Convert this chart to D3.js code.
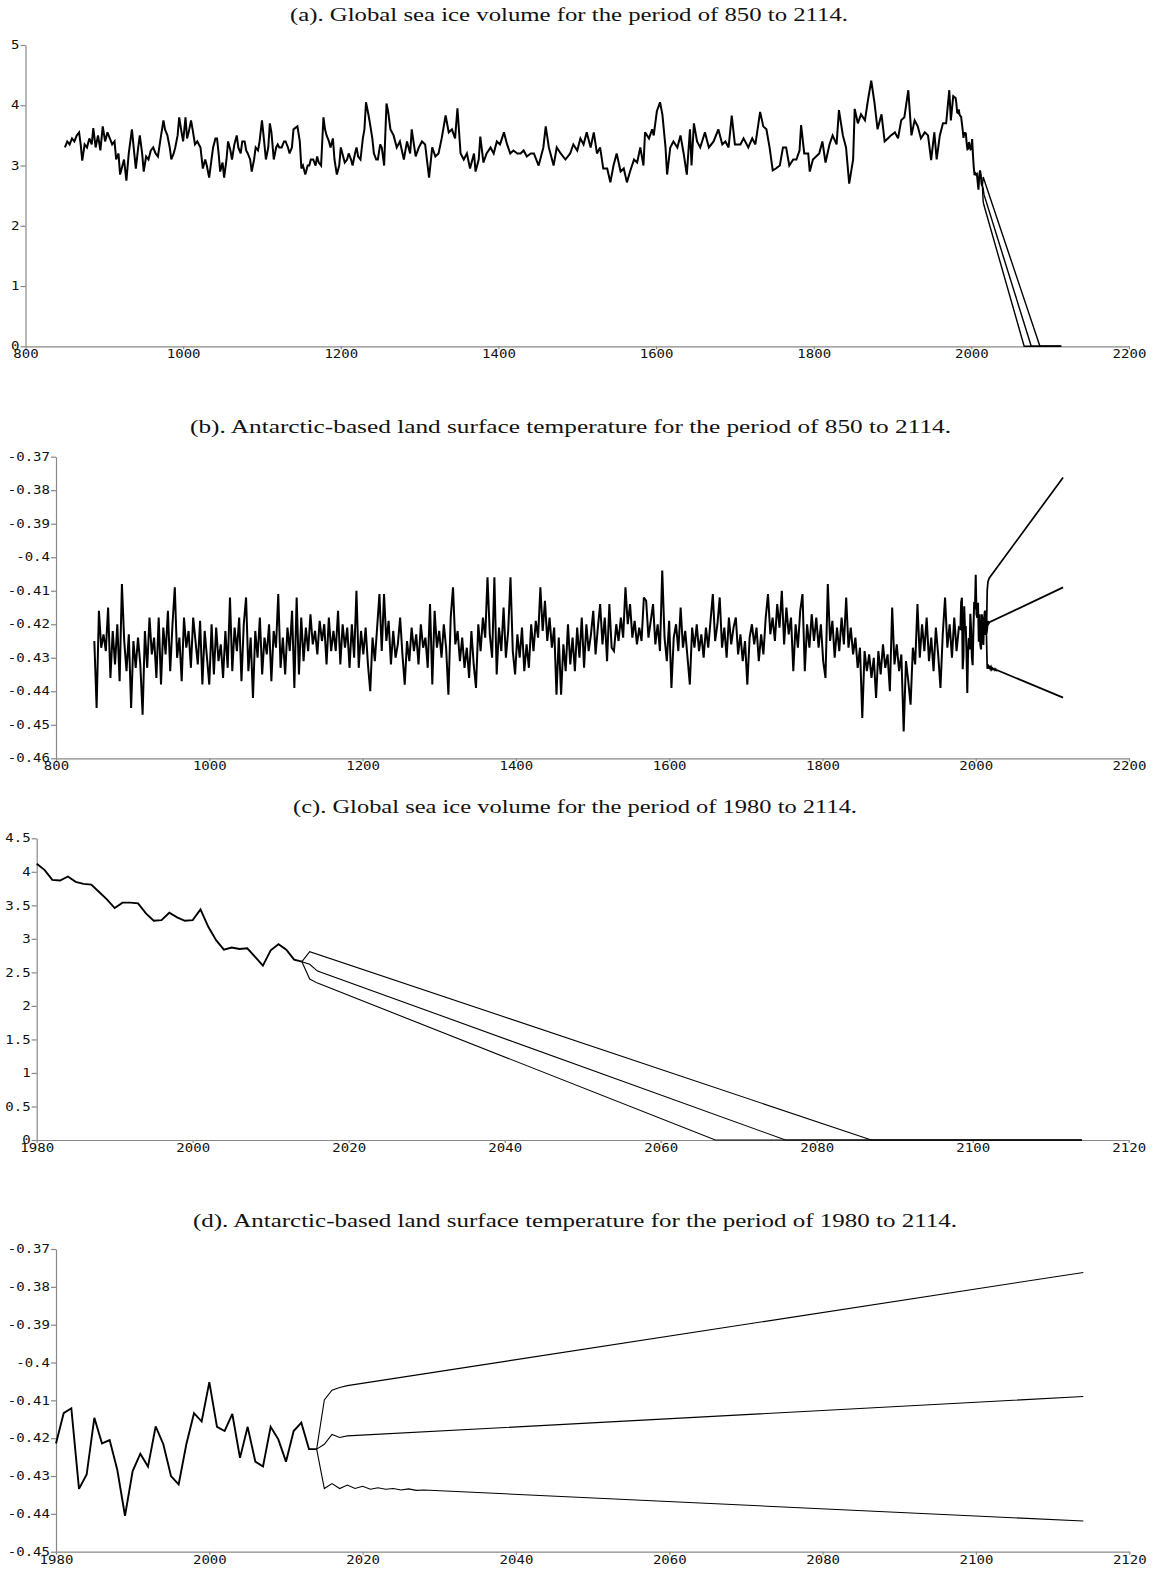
<!DOCTYPE html>
<html>
<head>
<meta charset="utf-8">
<script src="https://cdn.jsdelivr.net/npm/d3@7"></script>
<style>
body { margin: 0; background: #fff; }
.title { font-family: "Liberation Serif", "Times New Roman", serif; font-size: 19.5px; fill: #111; }
.axis text { font-family: "DejaVu Sans Mono", monospace; font-size: 11.5px; fill: #111; }
.axis path, .axis line { stroke: #888; stroke-width: 1.2; }
</style>
</head>
<body>
<svg id="chart" width="1156" height="1570"></svg>
<script>

// ---- sea ice volume, 850-1977 ----
const aYears = [
  850,853,856,859,862,865,868,870,872,875,
  878,881,884,886,889,892,895,898,901,904,
  907,910,913,915,918,920,923,925,928,931,
  935,938,940,943,945,948,950,953,956,959,
  962,965,968,972,975,977,980,983,985,988,
  990,993,995,998,1000,1003,1005,1007,1010,1012,
  1015,1018,1020,1022,1025,1028,1030,1033,1036,1038,
  1041,1043,1045,1047,1050,1052,1055,1057,1060,1062,
  1065,1068,1070,1073,1075,1078,1080,1082,1085,1087,
  1090,1092,1095,1097,1100,1102,1105,1108,1110,1112,
  1115,1118,1120,1122,1125,1128,1130,1133,1135,1138,
  1140,1142,1145,1148,1150,1152,1155,1158,1160,1162,
  1165,1168,1170,1172,1175,1178,1180,1182,1185,1187,
  1190,1192,1195,1198,1200,1202,1205,1208,1210,1213,
  1215,1218,1220,1222,1225,1228,1230,1232,1235,1237,
  1240,1242,1245,1247,1250,1252,1255,1258,1260,1263,
  1267,1271,1275,1280,1284,1288,1290,1295,1299,1303,
  1307,1312,1316,1320,1324,1328,1333,1337,1341,1345,
  1348,1352,1356,1360,1364,1369,1371,1375,1377,1381,
  1385,1390,1394,1398,1402,1407,1411,1415,1419,1424,
  1428,1432,1436,1441,1445,1451,1457,1460,1464,1470,
  1474,1479,1485,1491,1495,1500,1504,1508,1512,1517,
  1521,1525,1529,1533,1538,1542,1546,1550,1555,1559,
  1563,1567,1572,1576,1580,1584,1586,1591,1595,1597,
  1601,1605,1608,1612,1614,1618,1622,1627,1631,1635,
  1639,1643,1645,1648,1652,1656,1662,1667,1673,1679,
  1684,1688,1692,1696,1700,1707,1711,1717,1722,1726,
  1732,1736,1740,1744,1748,1752,1757,1761,1765,1769,
  1774,1778,1782,1784,1788,1793,1795,1799,1803,1807,
  1811,1815,1820,1824,1829,1832,1837,1841,1845,1850,
  1852,1856,1860,1865,1869,1873,1877,1881,1886,1890,
  1894,1898,1903,1907,1911,1915,1920,1924,1928,1932,
  1936,1941,1945,1949,1953,1956,1960,1964,1968,1972,
  1974,1977
];
const aValues = [
  3.3,3.4,3.35,3.45,3.4,3.5,3.55,3.35,3.08,3.35,
  3.3,3.45,3.35,3.62,3.3,3.5,3.25,3.65,3.4,3.55,
  3.45,3.35,3.4,3.1,3.2,2.85,3.0,3.1,2.75,3.2,
  3.6,3.2,2.95,3.3,3.5,3.2,2.9,3.15,3.1,3.25,
  3.3,3.2,3.15,3.5,3.75,3.6,3.5,3.3,3.1,3.2,
  3.3,3.5,3.8,3.55,3.4,3.8,3.45,3.55,3.75,3.6,
  3.35,3.4,3.35,3.3,2.95,3.1,3.0,2.8,3.1,3.3,
  3.45,3.45,3.2,2.9,3.05,2.8,3.1,3.4,3.25,3.1,
  3.35,3.5,3.3,3.2,3.4,3.4,3.25,3.2,3.1,2.9,
  3.1,3.3,3.25,3.4,3.75,3.5,3.1,3.3,3.7,3.55,
  3.1,3.3,3.35,3.3,3.3,3.4,3.4,3.3,3.2,3.3,
  3.6,3.62,3.65,3.4,2.95,3.0,2.85,3.0,3.0,3.1,
  3.1,3.0,3.15,3.05,3.0,3.8,3.6,3.5,3.4,3.3,
  3.45,3.1,2.85,3.0,3.3,3.2,3.05,3.1,3.2,3.1,
  3.0,3.2,3.3,3.15,3.1,3.45,3.6,4.05,3.85,3.7,
  3.45,3.2,3.1,3.1,3.35,3.3,3.0,4.03,3.9,3.6,
  3.5,3.3,3.4,3.1,3.4,3.2,3.6,3.15,3.3,3.4,
  3.35,2.8,3.3,3.15,3.2,3.45,3.83,3.55,3.6,3.45,
  3.95,3.2,3.1,3.2,2.95,3.2,2.9,3.1,3.48,3.05,
  3.2,3.3,3.2,3.4,3.35,3.55,3.35,3.2,3.25,3.2,
  3.2,3.25,3.15,3.2,3.2,3.0,3.3,3.65,3.3,3.0,
  3.3,3.2,3.1,3.2,3.35,3.25,3.45,3.35,3.55,3.3,
  3.55,3.2,3.3,2.95,2.95,2.72,3.0,3.2,2.9,2.95,
  2.72,2.9,3.1,3.05,3.3,3.0,3.55,3.45,3.6,3.5,
  3.9,4.05,3.85,3.3,2.85,3.3,3.4,3.3,3.5,3.2,
  2.85,3.6,3.0,3.7,3.4,3.3,3.55,3.3,3.4,3.6,
  3.35,3.4,3.3,3.83,3.35,3.35,3.45,3.3,3.45,3.35,
  3.89,3.65,3.6,3.3,2.92,2.95,3.0,3.3,3.3,3.0,
  3.1,3.1,3.25,3.67,3.2,3.2,2.9,3.1,3.15,3.2,
  3.4,3.05,3.35,3.5,3.35,3.92,3.5,3.3,2.7,3.1,
  3.94,3.7,3.85,3.75,4.1,4.41,4.05,3.6,3.85,3.4,
  3.45,3.5,3.55,3.45,3.75,3.8,4.25,3.5,3.75,3.65,
  3.45,3.55,3.5,3.09,3.55,3.1,3.5,3.7,3.7,4.25,
  3.75,4.15
];

// ---- sea ice volume, 1980-2014 yearly (panel c) ----
const cStart = 1980;
const cValues = [
  4.12,4.03,3.88,3.87,3.93,3.85,3.82,3.81,3.70,3.59,
  3.46,3.54,3.54,3.53,3.38,3.27,3.28,3.39,3.32,3.27,
  3.28,3.44,3.18,2.98,2.84,2.87,2.85,2.86,2.73,2.60,
  2.83,2.92,2.84,2.69,2.66
];

// ice projections (break points of each line)
const iceHighYears = [2014, 2015, 2087, 2114];
const iceHigh      = [2.66, 2.81, 0, 0];
const iceMidYears  = [2014, 2015, 2016, 2076, 2114];
const iceMid       = [2.66, 2.62, 2.52, 0, 0];
const iceLowYears  = [2014, 2015, 2016, 2067, 2114];
const iceLow       = [2.66, 2.40, 2.34, 0, 0];

// ---- Antarctic land temperature, 850-1978 every 3 years (panel b) ----
const bStart = 850, bStep = 3;
const bValues = [
  -0.425,-0.445,-0.416,-0.427,-0.423,-0.428,-0.415,-0.436,-0.422,-0.432,
  -0.420,-0.437,-0.408,-0.425,-0.434,-0.423,-0.445,-0.425,-0.433,-0.424,
  -0.432,-0.447,-0.422,-0.433,-0.418,-0.429,-0.424,-0.436,-0.418,-0.438,
  -0.421,-0.429,-0.416,-0.434,-0.420,-0.409,-0.430,-0.424,-0.437,-0.418,
  -0.427,-0.422,-0.433,-0.418,-0.425,-0.432,-0.419,-0.438,-0.422,-0.430,
  -0.438,-0.420,-0.435,-0.421,-0.431,-0.426,-0.436,-0.422,-0.433,-0.412,
  -0.434,-0.421,-0.428,-0.418,-0.437,-0.420,-0.412,-0.434,-0.424,-0.442,
  -0.422,-0.430,-0.418,-0.435,-0.424,-0.429,-0.420,-0.437,-0.422,-0.427,
  -0.411,-0.433,-0.424,-0.435,-0.421,-0.428,-0.416,-0.439,-0.412,-0.435,
  -0.418,-0.431,-0.421,-0.428,-0.417,-0.426,-0.422,-0.429,-0.419,-0.425,
  -0.420,-0.432,-0.418,-0.428,-0.422,-0.428,-0.416,-0.432,-0.420,-0.427,
  -0.421,-0.433,-0.420,-0.430,-0.410,-0.433,-0.422,-0.429,-0.421,-0.432,
  -0.440,-0.424,-0.431,-0.421,-0.411,-0.428,-0.411,-0.425,-0.419,-0.432,
  -0.422,-0.430,-0.426,-0.418,-0.429,-0.438,-0.425,-0.431,-0.421,-0.428,
  -0.423,-0.432,-0.420,-0.427,-0.424,-0.433,-0.414,-0.438,-0.416,-0.427,
  -0.422,-0.430,-0.420,-0.427,-0.441,-0.418,-0.409,-0.426,-0.422,-0.431,
  -0.424,-0.433,-0.427,-0.436,-0.422,-0.432,-0.439,-0.420,-0.428,-0.418,
  -0.424,-0.406,-0.423,-0.430,-0.406,-0.435,-0.421,-0.428,-0.415,-0.430,
  -0.422,-0.406,-0.428,-0.435,-0.423,-0.430,-0.421,-0.434,-0.426,-0.433,
  -0.420,-0.428,-0.419,-0.424,-0.409,-0.422,-0.413,-0.425,-0.418,-0.427,
  -0.421,-0.441,-0.424,-0.441,-0.426,-0.434,-0.420,-0.432,-0.424,-0.434,
  -0.421,-0.430,-0.418,-0.433,-0.420,-0.428,-0.423,-0.416,-0.429,-0.421,
  -0.414,-0.426,-0.418,-0.431,-0.414,-0.427,-0.428,-0.420,-0.425,-0.418,
  -0.424,-0.409,-0.420,-0.414,-0.424,-0.419,-0.426,-0.421,-0.425,-0.412,
  -0.413,-0.424,-0.419,-0.414,-0.426,-0.420,-0.428,-0.404,-0.424,-0.431,
  -0.419,-0.439,-0.424,-0.420,-0.428,-0.415,-0.427,-0.422,-0.430,-0.438,
  -0.421,-0.427,-0.420,-0.428,-0.423,-0.430,-0.421,-0.427,-0.419,-0.411,
  -0.425,-0.420,-0.412,-0.427,-0.421,-0.430,-0.418,-0.426,-0.421,-0.418,
  -0.429,-0.423,-0.431,-0.425,-0.438,-0.424,-0.420,-0.426,-0.421,-0.431,
  -0.423,-0.429,-0.418,-0.411,-0.423,-0.418,-0.425,-0.414,-0.421,-0.410,
  -0.426,-0.415,-0.423,-0.418,-0.434,-0.420,-0.427,-0.416,-0.411,-0.434,
  -0.420,-0.427,-0.417,-0.425,-0.418,-0.427,-0.420,-0.431,-0.436,-0.408,
  -0.425,-0.419,-0.430,-0.421,-0.428,-0.418,-0.426,-0.412,-0.427,-0.421,
  -0.429,-0.424,-0.433,-0.427,-0.448,-0.428,-0.434,-0.429,-0.436,-0.430,
  -0.442,-0.428,-0.435,-0.426,-0.433,-0.429,-0.440,-0.415,-0.432,-0.426,
  -0.434,-0.429,-0.452,-0.431,-0.437,-0.444,-0.427,-0.432,-0.414,-0.430,
  -0.420,-0.428,-0.418,-0.431,-0.424,-0.434,-0.421,-0.429,-0.439,-0.423,
  -0.412,-0.427,-0.420,-0.430,-0.418,-0.428,-0.421
];

// ---- Antarctic land temperature, 1980-2014 yearly (panel d) ----
const dStart = 1980;
const dValues = [
  -0.4214,-0.4134,-0.4121,-0.4334,-0.4296,-0.4146,-0.4214,-0.4205,-0.4284,-0.4405,
  -0.4287,-0.4241,-0.4275,-0.4169,-0.4216,-0.4300,-0.4322,-0.4216,-0.4134,-0.4156,
  -0.4052,-0.4170,-0.4181,-0.4136,-0.4252,-0.4170,-0.4262,-0.4275,-0.4170,-0.4203,
  -0.4262,-0.4181,-0.4159,-0.4229,-0.4229
];

// temperature projections (break points of each line)
const tempHighYears = [2014, 2015, 2016, 2017, 2018, 2114];
const tempHigh      = [-0.4229, -0.4099, -0.4073, -0.4066, -0.4061, -0.3762];
const tempMidYears  = [2014, 2015, 2016, 2017, 2018, 2114];
const tempMid       = [-0.4229, -0.4216, -0.4190, -0.4198, -0.4194, -0.4090];
const tempLowYears  = [2014, 2015, 2016, 2017, 2018, 2019, 2020, 2021, 2022, 2023, 2024, 2025, 2026, 2027, 2028, 2114];
const tempLow       = [-0.4229, -0.4333, -0.4320, -0.4333, -0.4324, -0.4333, -0.4327, -0.4335, -0.4331, -0.4335,
                       -0.4333, -0.4337, -0.4334, -0.4338, -0.4337, -0.4419];

// tick labels
const longTicks  = [800, 1000, 1200, 1400, 1600, 1800, 2000, 2200];
const shortTicks = [1980, 2000, 2020, 2040, 2060, 2080, 2100, 2120];
const iceTicksA  = [0, 1, 2, 3, 4, 5];
const iceTicksC  = [0, 0.5, 1, 1.5, 2, 2.5, 3, 3.5, 4, 4.5];
const tempTicksB = [-0.46, -0.45, -0.44, -0.43, -0.42, -0.41, -0.4, -0.39, -0.38, -0.37];
const tempTicksD = [-0.45, -0.44, -0.43, -0.42, -0.41, -0.4, -0.39, -0.38, -0.37];

const titles = [
  "(a). Global sea ice volume for the period of 850 to 2114.",
  "(b). Antarctic-based land surface temperature for the period of 850 to 2114.",
  "(c). Global sea ice volume for the period of 1980 to 2114.",
  "(d). Antarctic-based land surface temperature for the period of 1980 to 2114."
];

// build the combined historical tables
const cYears = d3.range(cStart, cStart + cValues.length);
const dYears = d3.range(dStart, dStart + dValues.length);
const bYears = d3.range(bStart, bStart + bStep * bValues.length, bStep);

const iceLong  = d3.zip(aYears.concat(cYears), aValues.concat(cValues));
const iceShort = d3.zip(cYears, cValues);
const tempLong  = d3.zip(bYears.concat(dYears), bValues.concat(dValues));
const tempShort = d3.zip(dYears, dValues);

const iceProj = [d3.zip(iceHighYears, iceHigh), d3.zip(iceMidYears, iceMid), d3.zip(iceLowYears, iceLow)];
const tempProj = [d3.zip(tempHighYears, tempHigh), d3.zip(tempMidYears, tempMid), d3.zip(tempLowYears, tempLow)];

const svg = d3.select("#chart");
const labelStretch = 1.22;

function panel(p) {
  const x = d3.scaleLinear().domain(p.xDomain).range([p.left, p.right]);
  const y = d3.scaleLinear().domain(p.yDomain).range([p.bottom, p.top]);
  const g = svg.append("g");

  g.append("text")
    .attr("class", "title")
    .attr("x", p.titleX)
    .attr("y", p.titleY)
    .attr("textLength", p.titleW)
    .attr("lengthAdjust", "spacingAndGlyphs")
    .text(p.title);

  g.append("g")
    .attr("class", "axis")
    .attr("transform", `translate(0,${p.bottom})`)
    .call(d3.axisBottom(x).tickValues(p.xTicks).tickFormat(d3.format("d"))
      .tickSize(3).tickSizeOuter(0).tickPadding(1));

  g.append("g")
    .attr("class", "axis")
    .attr("transform", `translate(${p.left},0)`)
    .call(d3.axisLeft(y).tickValues(p.yTicks).tickFormat(d => String(d))
      .tickSize(5).tickSizeOuter(0).tickPadding(1));

  // the tick font in the original is wide, stretch each label
  g.selectAll(".axis text").each(function() {
    const w = this.getComputedTextLength();
    d3.select(this).attr("textLength", w * labelStretch).attr("lengthAdjust", "spacingAndGlyphs");
  });

  const line = d3.line().x(d => x(d[0])).y(d => y(d[1]));

  p.proj.forEach(s => {
    g.append("path").datum(s).attr("d", line)
      .attr("fill", "none").attr("stroke", "#000").attr("stroke-width", p.projWidth);
  });

  g.append("path").datum(p.hist).attr("d", line)
    .attr("fill", "none").attr("stroke", "#000").attr("stroke-width", p.histWidth)
    .attr("stroke-linejoin", "miter").attr("stroke-miterlimit", 3);
}

panel({ title: titles[0], titleX: 290, titleY: 21, titleW: 558,
  left: 25.5, right: 1129, top: 45, bottom: 346.3,
  xDomain: [800, 2200], yDomain: [0, 5], xTicks: longTicks, yTicks: iceTicksA,
  hist: iceLong, proj: iceProj, histWidth: 2, projWidth: 1.4 });

panel({ title: titles[1], titleX: 190, titleY: 433, titleW: 761,
  left: 56, right: 1129, top: 456.7, bottom: 758.3,
  xDomain: [800, 2200], yDomain: [-0.46, -0.37], xTicks: longTicks, yTicks: tempTicksB,
  hist: tempLong, proj: tempProj, histWidth: 2, projWidth: 1.7 });

panel({ title: titles[2], titleX: 293, titleY: 813, titleW: 564,
  left: 36.7, right: 1128.7, top: 838.3, bottom: 1140,
  xDomain: [1980, 2120], yDomain: [0, 4.5], xTicks: shortTicks, yTicks: iceTicksC,
  hist: iceShort, proj: iceProj, histWidth: 1.9, projWidth: 1.1 });

panel({ title: titles[3], titleX: 193, titleY: 1227, titleW: 764,
  left: 56, right: 1129.3, top: 1249, bottom: 1551.7,
  xDomain: [1980, 2120], yDomain: [-0.45, -0.37], xTicks: shortTicks, yTicks: tempTicksD,
  hist: tempShort, proj: tempProj, histWidth: 1.9, projWidth: 1.1 });

</script>
</body>
</html>
